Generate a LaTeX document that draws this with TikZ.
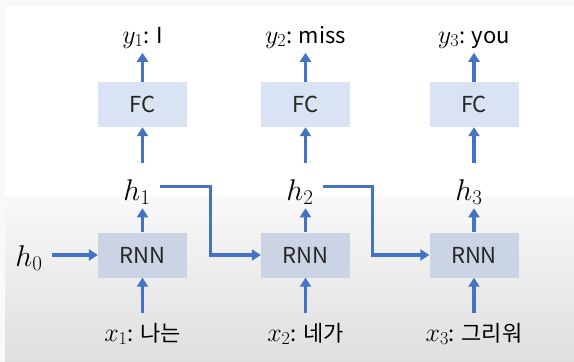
\RequirePackage{fix-cm}
\documentclass[tikz,border=0pt]{standalone}
\usepackage[no-math]{fontspec}
\setmainfont{Noto Sans CJK KR}
\usetikzlibrary{arrows.meta}
\definecolor{linkblue}{HTML}{4472C4}
\definecolor{fcfill}{HTML}{DAE3F3}
\definecolor{rnnfill}{HTML}{CAD4E4}
\newcommand{\mlab}[1]{{\fontsize{26}{28}\selectfont$#1$}}
\tikzset{
  fcbox/.style={fill=fcfill, text=black!85, minimum width=89pt, minimum height=45pt, inner sep=0pt, font=\fontsize{22}{24}\selectfont},
  rnnbox/.style={fcbox, fill=rnnfill},
  label/.style={inner sep=0pt, font=\fontsize{22}{24}\selectfont},
  hlabel/.style={inner sep=0pt, font=\fontsize{30}{32}\selectfont},
  link/.style={draw=linkblue, line width=3.2pt, ->}
}
\begin{document}
\begin{tikzpicture}[x=1pt, y=-1pt, >={Triangle[width=11pt,length=9pt]}]
\useasboundingbox (0,0) rectangle (574,362);
% background
\fill[gray!5] (0,0) rectangle (574,362);
\fill[white] (5,6) rectangle (574,196);
\shade[top color=gray!5, bottom color=gray!25] (5,196) rectangle (574,362);
% boxes
\node[fcbox] (fc1) at (142.5,104.5) {FC};
\node[fcbox] (fc2) at (305.5,104.5) {FC};
\node[fcbox] (fc3) at (474,104.5) {FC};
\node[rnnbox] (rnn1) at (142.5,255) {RNN};
\node[rnnbox] (rnn2) at (305.5,255) {RNN};
\node[rnnbox] (rnn3) at (474,255) {RNN};
% labels
\node[label, anchor=base] (y1) at (142.5,43) {\mlab{y_1}: I};
\node[label, anchor=base] (y2) at (305.5,43) {\mlab{y_2}: miss};
\node[label, anchor=base] (y3) at (474,43) {\mlab{y_3}: you};
\node[hlabel, anchor=base] (h1) at (137,200) {$h_1$};
\node[hlabel, anchor=base] (h2) at (300,200) {$h_2$};
\node[hlabel, anchor=base] (h3) at (469,200) {$h_3$};
\node[hlabel, anchor=base] (h0) at (29,266) {$h_0$};
\node[label, anchor=base] (x1) at (142.5,341) {\mlab{x_1}: 나는};
\node[label, anchor=base] (x2) at (305.5,341) {\mlab{x_2}: 네가};
\node[label, anchor=base] (x3) at (474,341) {\mlab{x_3}: 그리워};
% connectors
\draw[link] (fc1.north) -- ++(0,-29);
\draw[link] (fc2.north) -- ++(0,-29);
\draw[link] (fc3.north) -- ++(0,-29);
\draw[link] (h1.south -| fc1) ++(0,-42) -- (fc1.south);
\draw[link] (fc2 |- h2.south) ++(0,-42) -- (fc2.south);
\draw[link] (fc3 |- h3.south) ++(0,-42) -- (fc3.south);
\draw[link] (rnn1.north) -- ++(0,-24);
\draw[link] (rnn2.north) -- ++(0,-24);
\draw[link] (rnn3.north) -- ++(0,-24);
\draw[link] (rnn1 |- x1.north) ++(0,-10) -- (rnn1.south);
\draw[link] (rnn2 |- x2.north) ++(0,-10) -- (rnn2.south);
\draw[link] (rnn3 |- x3.north) ++(0,-10) -- (rnn3.south);
\draw[link] (h0.east |- rnn1.west) ++(9,0) -- (rnn1.west);
\draw[link] (h1.east) ++(9,-5) -- ++(50.5,0) |- (rnn2.west);
\draw[link] (h2.east) ++(9,-5) -- ++(50,0) |- (rnn3.west);
\end{tikzpicture}
\end{document}
